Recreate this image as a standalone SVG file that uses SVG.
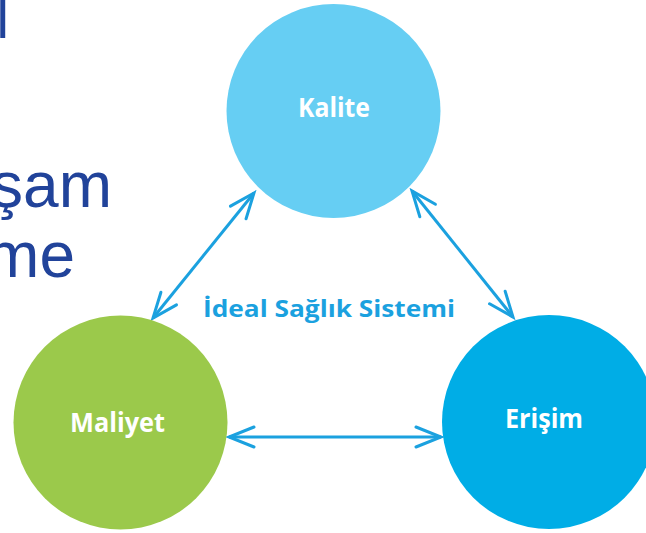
<svg xmlns="http://www.w3.org/2000/svg" width="646" height="533" viewBox="0 0 646 533">
<style>
.bg{font-family:"Liberation Sans",Arial,sans-serif;fill:#21439a;font-size:64px}
.lbl{font-family:"Open Sans","Liberation Sans",sans-serif;font-weight:bold;fill:#ffffff;font-size:26px}
.title{font-family:"Open Sans","Liberation Sans",sans-serif;font-weight:bold;fill:#1ba1df;font-size:24px}
.conn{stroke:#1ba1df;stroke-width:3;fill:none}
</style>
<defs>
<marker id="chev" markerUnits="userSpaceOnUse" viewBox="-30 -15 34 30" markerWidth="34" markerHeight="30" refX="0" refY="0" orient="auto-start-reverse">
<path d="M-25,-10 L0,0 L-25,10" fill="none" stroke="#1ba1df" stroke-width="3" stroke-linecap="round" stroke-linejoin="miter"/>
</marker>
</defs>
<rect width="646" height="533" fill="#ffffff"/>
<g id="background-text">
<text class="bg" x="-3.6" y="38" style="font-size:56px">l</text>
<text class="bg" x="112" y="207" text-anchor="end">şam</text>
<text class="bg" x="75" y="277" text-anchor="end">me</text>
</g>
<g id="connectors">
<line class="conn" x1="254" y1="193" x2="153" y2="318" marker-start="url(#chev)" marker-end="url(#chev)"/>
<line class="conn" x1="412" y1="191" x2="513" y2="317" marker-start="url(#chev)" marker-end="url(#chev)"/>
<line class="conn" x1="229" y1="437" x2="441" y2="437" marker-start="url(#chev)" marker-end="url(#chev)"/>
</g>
<g id="kalite">
<circle cx="333.5" cy="111" r="107" fill="#66cef3"/>
<text class="lbl" x="298" y="117" textLength="72" lengthAdjust="spacingAndGlyphs">Kalite</text>
</g>
<g id="maliyet">
<circle cx="120.5" cy="422.5" r="107" fill="#9bc94b"/>
<text class="lbl" x="70" y="432" textLength="95" lengthAdjust="spacingAndGlyphs">Maliyet</text>
</g>
<g id="erisim">
<circle cx="549" cy="422" r="107" fill="#00ade6"/>
<text class="lbl" x="505" y="428" textLength="78" lengthAdjust="spacingAndGlyphs">Erişim</text>
</g>
<g id="title">
<text class="title" x="203" y="317" textLength="252" lengthAdjust="spacingAndGlyphs">İdeal Sağlık Sistemi</text>
</g>
</svg>
